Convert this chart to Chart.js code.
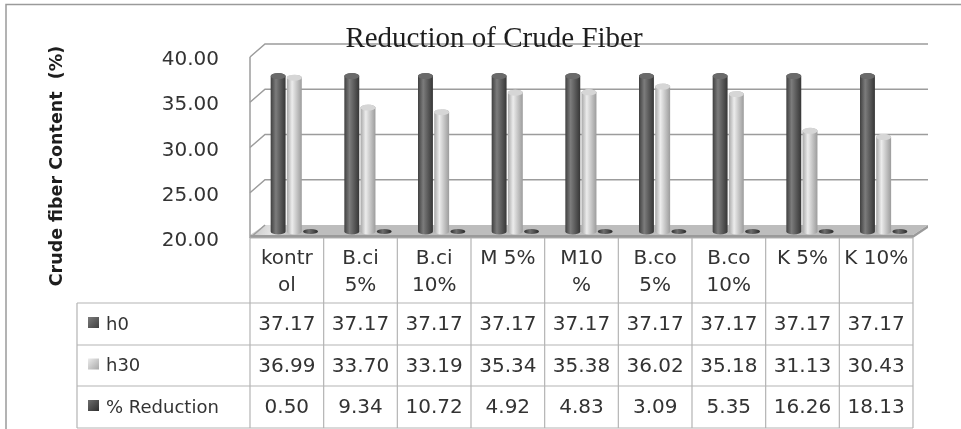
<!DOCTYPE html>
<html>
<head>
<meta charset="utf-8">
<script src="https://cdn.jsdelivr.net/npm/chart.js@4.4.1/dist/chart.umd.min.js"></script>
<style>
html, body { margin: 0; padding: 0; background: #fff; }
</style>
</head>
<body>
<canvas id="grafico-fibra" width="961" height="429"></canvas>
<script>
// dati
var categorie = [["kontr", "ol"], ["B.ci", "5%"], ["B.ci", "10%"], ["M 5%"], ["M10", "%"], ["B.co", "5%"], ["B.co", "10%"], ["K 5%"], ["K 10%"]];
var nomiSerie = ["h0", "h30", "% Reduction"];
var h0 = [37.17, 37.17, 37.17, 37.17, 37.17, 37.17, 37.17, 37.17, 37.17];
var h30 = [36.99, 33.70, 33.19, 35.34, 35.38, 36.02, 35.18, 31.13, 30.43];
var riduzione = [0.50, 9.34, 10.72, 4.92, 4.83, 3.09, 5.35, 16.26, 18.13];
var tickY = [20, 25, 30, 35, 40];

var DX = 15, DY = -13; // profondita' della scatola 3d

// colori dei cilindri: bordo sx, luce, bordo dx, coperchio
var coloriSerie = [
  ['#404040', '#7c7c7c', '#363636', '#6a6a6a'],
  ['#a8a8a8', '#ececec', '#9c9c9c', '#d6d6d6'],
  ['#2e2e2e', '#6e6e6e', '#2a2a2a', '#555555']
];

function cilindro(ctx, cx, top, base, w, col) {
  var rx = w / 2, ry = 3;
  var g = ctx.createLinearGradient(cx - rx, 0, cx + rx, 0);
  g.addColorStop(0, col[0]);
  g.addColorStop(0.35, col[1]);
  g.addColorStop(1, col[2]);
  ctx.fillStyle = g;
  ctx.beginPath();
  ctx.moveTo(cx - rx, top);
  ctx.lineTo(cx - rx, base);
  ctx.ellipse(cx, base, rx, ry, 0, Math.PI, 0, true);
  ctx.lineTo(cx + rx, top);
  ctx.ellipse(cx, top, rx, ry, 0, 0, Math.PI, true);
  ctx.closePath();
  ctx.fill();
  ctx.fillStyle = col[3];
  ctx.beginPath();
  ctx.ellipse(cx, top, rx, ry, 0, 0, Math.PI * 2);
  ctx.fill();
}

function quadratino(ctx, x, y, col) {
  var g = ctx.createLinearGradient(x, y, x + 11, y + 11);
  g.addColorStop(0, col[1]);
  g.addColorStop(1, col[0]);
  ctx.fillStyle = g;
  ctx.fillRect(x, y, 11, 11);
}

var scatola3d = {
  id: 'scatola3d',
  beforeDatasetsDraw: function (chart) {
    var ctx = chart.ctx, a = chart.chartArea, sy = chart.scales.y;
    ctx.save();
    // pavimento
    var g = ctx.createLinearGradient(a.left, a.bottom + DY, a.left + 40, a.bottom);
    g.addColorStop(0, '#c4c4c4');
    g.addColorStop(0.5, '#e2e2e2');
    g.addColorStop(1, '#bdbdbd');
    ctx.fillStyle = g;
    ctx.beginPath();
    ctx.moveTo(a.left, a.bottom - 3);
    ctx.lineTo(a.right, a.bottom - 3);
    ctx.lineTo(a.right + DX, a.bottom + DY);
    ctx.lineTo(a.left + DX, a.bottom + DY);
    ctx.closePath();
    ctx.fill();
    ctx.fillStyle = '#9a9a9a';
    ctx.beginPath();
    ctx.moveTo(a.left, a.bottom - 3);
    ctx.lineTo(a.right, a.bottom - 3);
    ctx.lineTo(a.right + DX, a.bottom + DY);
    ctx.lineTo(a.right + DX, a.bottom + DY + 3);
    ctx.lineTo(a.right, a.bottom);
    ctx.lineTo(a.left, a.bottom);
    ctx.closePath();
    ctx.fill();

    // griglia sulla parete di fondo e parete laterale
    ctx.strokeStyle = '#9c9c9c';
    ctx.lineWidth = 1.5;
    for (var i = 0; i < tickY.length; i++) {
      var py = sy.getPixelForValue(tickY[i]);
      ctx.beginPath();
      ctx.moveTo(a.left, py);
      ctx.lineTo(a.left + DX, py + DY);
      if (tickY[i] > sy.min) ctx.lineTo(a.right + DX, py + DY);
      ctx.stroke();
    }
    ctx.beginPath();
    ctx.moveTo(a.left, a.top);
    ctx.lineTo(a.left, a.bottom);
    ctx.stroke();
    ctx.restore();
  },
  afterDatasetsDraw: function (chart) {
    var ctx = chart.ctx, a = chart.chartArea;
    ctx.save();
    for (var j = 0; j < categorie.length; j++) {
      for (var d = 0; d < chart.data.datasets.length; d++) {
        var el = chart.getDatasetMeta(d).data[j];
        var base = Math.min(el.base, a.bottom) + DY / 2;
        var top = Math.min(el.y, a.bottom) + DY / 2;
        var cx = el.x + DX / 2;
        if (top < base - 1) {
          cilindro(ctx, cx, top, base, el.width, coloriSerie[d]);
        } else {
          // valore sotto il minimo: solo il disco sul pavimento
          var col = coloriSerie[d];
          var g = ctx.createLinearGradient(cx - el.width / 2, 0, cx + el.width / 2, 0);
          g.addColorStop(0, col[0]);
          g.addColorStop(0.4, col[1]);
          g.addColorStop(1, col[2]);
          ctx.fillStyle = g;
          ctx.beginPath();
          ctx.ellipse(cx, base, el.width / 2, 2.5, 0, 0, Math.PI * 2);
          ctx.fill();
        }
      }
    }
    ctx.restore();
  },
  afterDraw: function (chart) {
    var ctx = chart.ctx, a = chart.chartArea, sx = chart.scales.x;
    var serie = [h0, h30, riduzione];
    var colW = (a.right - a.left) / categorie.length;
    var leg = 77;
    var righe = [a.bottom, a.bottom + 65, a.bottom + 107, a.bottom + 148, a.bottom + 190];
    ctx.save();

    // tabella dati
    ctx.strokeStyle = '#b4b4b4';
    ctx.lineWidth = 1.2;
    ctx.beginPath();
    ctx.moveTo(a.left, a.bottom);
    ctx.lineTo(a.right, a.bottom);
    for (var r = 1; r < righe.length; r++) {
      ctx.moveTo(leg, righe[r]);
      ctx.lineTo(a.right, righe[r]);
    }
    ctx.moveTo(leg, righe[1]);
    ctx.lineTo(leg, righe[4]);
    for (var c = 0; c <= categorie.length; c++) {
      var lx = a.left + c * colW;
      ctx.moveTo(lx, a.bottom);
      ctx.lineTo(lx, righe[4]);
    }
    ctx.stroke();

    ctx.fillStyle = '#333';
    ctx.textAlign = 'center';
    ctx.textBaseline = 'middle';
    ctx.font = '20px "DejaVu Sans"';
    for (var k = 0; k < categorie.length; k++) {
      var cx = sx.getPixelForValue(k);
      var lab = categorie[k];
      for (var l = 0; l < lab.length; l++) {
        ctx.fillText(lab[l], cx, a.bottom + 21 + l * 27);
      }
      for (var s = 0; s < serie.length; s++) {
        ctx.fillText(serie[s][k].toFixed(2), cx, (righe[s + 1] + righe[s + 2]) / 2 + 1);
      }
    }
    ctx.textAlign = 'left';
    ctx.font = '18px "DejaVu Sans"';
    for (var n = 0; n < nomiSerie.length; n++) {
      var my = (righe[n + 1] + righe[n + 2]) / 2;
      quadratino(ctx, 88, my - 7, coloriSerie[n]);
      ctx.fillStyle = '#333';
      ctx.fillText(nomiSerie[n], 106, my + 1);
    }

    // titolo
    ctx.fillStyle = '#1e1e1e';
    ctx.textAlign = 'center';
    ctx.textBaseline = 'alphabetic';
    ctx.font = '29px "Liberation Serif"';
    ctx.fillText('Reduction of Crude Fiber', 494, 47);

    // titolo asse y
    ctx.save();
    ctx.translate(57, 166);
    ctx.rotate(-Math.PI / 2);
    ctx.textBaseline = 'middle';
    ctx.font = 'bold 17.5px "DejaVu Sans"';
    ctx.fillText('Crude fiber Content  (%)', 0, 0);
    ctx.restore();

    // cornice
    ctx.strokeStyle = '#9a9a9a';
    ctx.lineWidth = 1.5;
    ctx.beginPath();
    ctx.moveTo(6, 429);
    ctx.lineTo(6, 4.5);
    ctx.lineTo(961, 4.5);
    ctx.stroke();
    ctx.restore();
  }
};

var myChart = new Chart(document.getElementById('grafico-fibra'), {
  type: 'bar',
  data: {
    labels: categorie,
    datasets: [
      { label: nomiSerie[0], data: h0, backgroundColor: 'rgba(0,0,0,0)' },
      { label: nomiSerie[1], data: h30, backgroundColor: 'rgba(0,0,0,0)' },
      { label: nomiSerie[2], data: riduzione, backgroundColor: 'rgba(0,0,0,0)' }
    ]
  },
  options: {
    responsive: false,
    animation: false,
    devicePixelRatio: 1,
    layout: { padding: { top: 57, bottom: 191, right: 48, left: 0 } },
    datasets: { bar: { categoryPercentage: 0.66, barPercentage: 0.92 } },
    scales: {
      x: { display: false },
      y: {
        min: 20,
        max: 40,
        afterFit: function (scale) { scale.width = 250; },
        afterBuildTicks: function (scale) {
          scale.ticks = tickY.map(function (v) { return { value: v }; });
        },
        ticks: {
          padding: 23,
          labelOffset: 3,
          color: '#333',
          font: { family: 'DejaVu Sans', size: 20 },
          callback: function (v) { return Number(v).toFixed(2); }
        },
        grid: { display: false },
        border: { display: false }
      }
    },
    plugins: {
      legend: { display: false },
      tooltip: { enabled: false }
    }
  },
  plugins: [scatola3d]
});
</script>
</body>
</html>
